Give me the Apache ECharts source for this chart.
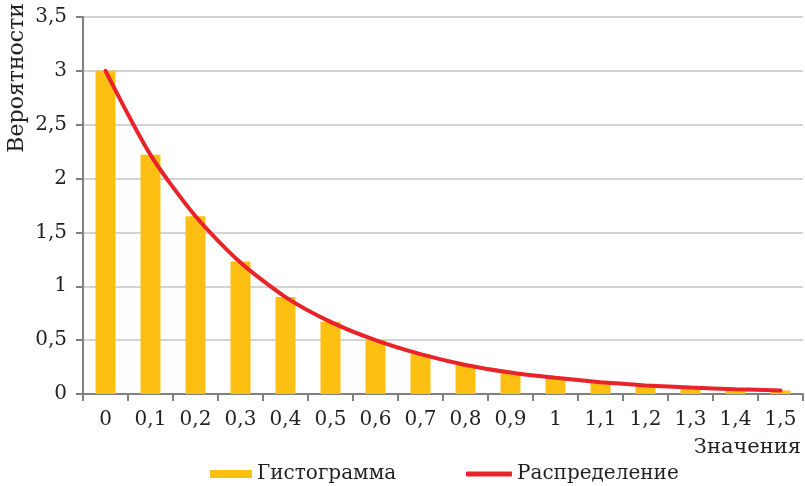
<!DOCTYPE html>
<html>
<head>
<meta charset="utf-8">
<script src="https://cdn.jsdelivr.net/npm/echarts@6/dist/echarts.min.js"></script>
<style>
  html, body { margin: 0; padding: 0; background: #fff; }
  #chart { width: 805px; height: 486px; }
</style>
</head>
<body>
<div id="chart"></div>
<script>
  var categories = ['0', '0,1', '0,2', '0,3', '0,4', '0,5', '0,6', '0,7', '0,8', '0,9', '1', '1,1', '1,2', '1,3', '1,4', '1,5'];
  var histogram = [3.0, 2.22, 1.65, 1.23, 0.9, 0.67, 0.5, 0.37, 0.27, 0.2, 0.15, 0.11, 0.08, 0.06, 0.045, 0.033];
  var distribution = [3.0, 2.22, 1.65, 1.22, 0.9, 0.67, 0.5, 0.37, 0.27, 0.2, 0.15, 0.11, 0.08, 0.06, 0.045, 0.033];

  var font = '"DejaVu Serif", serif';
  var legendText = { fontFamily: font, fontSize: 20, color: '#231f20' };
  var chart = echarts.init(document.getElementById('chart'));
  chart.setOption({
    animation: false,
    textStyle: { fontFamily: font, color: '#231f20' },
    grid: { left: 83, right: 2, top: 17, bottom: 92 },
    legend: [
      {
        top: 459, left: 205,
        itemWidth: 42, itemHeight: 8,
        textStyle: legendText,
        data: [{ name: 'Гистограмма', icon: 'rect' }]
      },
      {
        top: 459, left: 461,
        itemWidth: 46, itemHeight: 5,
        textStyle: legendText,
        data: [{ name: 'Распределение', icon: 'roundRect' }]
      }
    ],
    graphic: [
      {
        type: 'text', left: 6, top: 3, rotation: Math.PI / 2,
        style: { text: 'Вероятности', font: '22px ' + font, fill: '#231f20' }
      },
      {
        type: 'text', right: 4, top: 437,
        style: { text: 'Значения', font: '21px ' + font, fill: '#231f20' }
      }
    ],
    xAxis: {
      type: 'category',
      data: categories,
      axisLine: { lineStyle: { color: '#808080', width: 2 } },
      axisTick: { show: true, length: 7, lineStyle: { color: '#808080', width: 2 } },
      axisLabel: { fontFamily: font, fontSize: 20, color: '#231f20', margin: 16, interval: 0 }
    },
    yAxis: {
      type: 'value',
      min: 0, max: 3.5, interval: 0.5,
      axisLine: { show: true, lineStyle: { color: '#808080', width: 2 } },
      axisTick: { show: true, length: 7, lineStyle: { color: '#808080', width: 2 } },
      splitLine: { lineStyle: { color: '#c4c4c4', width: 1.5 } },
      axisLabel: {
        fontFamily: font, fontSize: 20, color: '#231f20', margin: 16,
        formatter: function (v) { return String(v).replace('.', ','); }
      }
    },
    series: [
      {
        name: 'Гистограмма',
        type: 'bar',
        barWidth: 20,
        itemStyle: { color: '#fcbf12' },
        data: histogram
      },
      {
        name: 'Распределение',
        type: 'line',
        smooth: 0.25,
        symbol: 'none',
        lineStyle: { color: '#e8232a', width: 4, cap: 'round' },
        itemStyle: { color: '#e8232a' },
        data: distribution
      }
    ]
  });
</script>
</body>
</html>
